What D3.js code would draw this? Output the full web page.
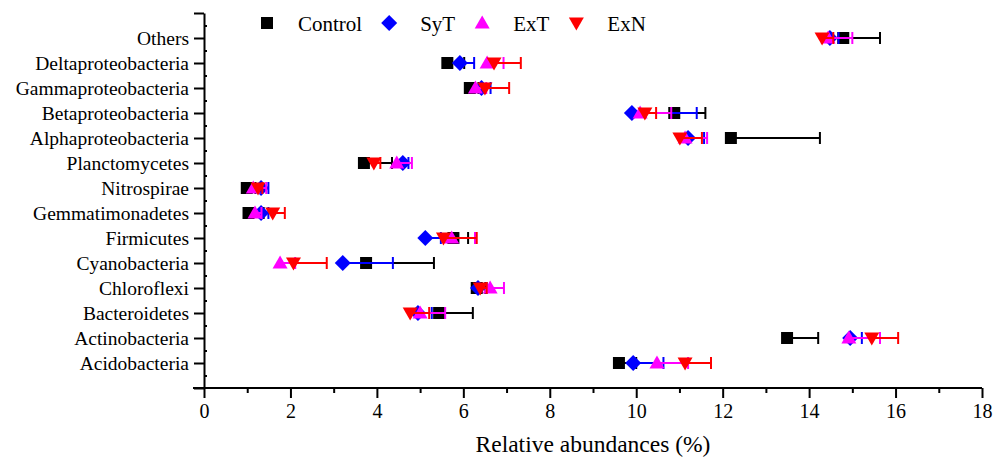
<!DOCTYPE html>
<html>
<head>
<meta charset="utf-8">
<script src="https://cdn.jsdelivr.net/npm/d3@7"></script>
<style>
  body { margin: 0; background: #fff; }
  svg text { font-family: "Liberation Serif", Tinos, "Times New Roman", Times, "DejaVu Serif", serif; fill: #000; }
</style>
</head>
<body>
<div id="chart"></div>
<script>
// categories listed bottom to top
const categories = ["Acidobacteria", "Actinobacteria", "Bacteroidetes", "Chloroflexi", "Cyanobacteria",
  "Firmicutes", "Gemmatimonadetes", "Nitrospirae", "Planctomycetes", "Alphaproteobacteria",
  "Betaproteobacteria", "Gammaproteobacteria", "Deltaproteobacteria", "Others"];

const seriesNames = ["Control", "SyT", "ExT", "ExN"];
const seriesColors = ["#000000", "#0000ff", "#ff00ff", "#ff0000"];

const controlMean = [9.6, 13.49, 5.44, 6.31, 3.75, 5.77, 1.03, 0.99, 3.7, 12.19, 10.88, 6.15, 5.63, 14.79];
const controlSd   = [0.4, 0.72, 0.78, 0.2, 1.57, 0.34, 0.35, 0.2, 0.65, 2.06, 0.72, 0.2, 0.39, 0.85];
const sytMean = [9.93, 14.95, 4.95, 6.34, 3.21, 5.12, 1.32, 1.32, 4.6, 11.2, 9.9, 6.42, 5.92, 14.48];
const sytSd   = [0.7, 0.27, 0.32, 0.2, 1.16, 0.36, 0.17, 0.17, 0.13, 0.37, 1.5, 0.21, 0.33, 0.2];
const extMean = [10.48, 14.92, 5.0, 6.62, 1.76, 5.73, 1.18, 1.14, 4.46, 11.13, 10.09, 6.28, 6.55, 14.44];
const extSd   = [0.72, 0.72, 0.58, 0.32, 0.35, 0.54, 0.15, 0.3, 0.35, 0.51, 0.72, 0.25, 0.38, 0.56];
const exnMean = [11.13, 15.45, 4.77, 6.39, 2.07, 5.54, 1.59, 1.25, 3.93, 11.01, 10.2, 6.5, 6.71, 14.3];
const exnSd   = [0.6, 0.61, 0.44, 0.15, 0.77, 0.77, 0.28, 0.1, 0.15, 0.51, 0.26, 0.56, 0.62, 0.26];

const xMajor = [0, 2, 4, 6, 8, 10, 12, 14, 16, 18];
const xMinor = [1, 3, 5, 7, 9, 11, 13, 15, 17];

const means = [controlMean, sytMean, extMean, exnMean];
const sds = [controlSd, sytSd, extSd, exnSd];

const width = 1003, height = 461;
const svg = d3.select("#chart").append("svg")
  .attr("width", width)
  .attr("height", height);

const x = d3.scaleLinear().domain([0, 18]).range([204, 982]);
const y = d3.scaleLinear().domain([0, 15]).range([388, 13]);

// marker shapes
const shapes = [
  "M-6,-6H6V6H-6Z",
  "M0,-8L8,0L0,8L-8,0Z",
  "M0,-7.5L7.5,5.5L-7.5,5.5Z",
  "M0,7.5L7.5,-5.5L-7.5,-5.5Z"
];

// x axis
const xAxis = svg.append("g")
  .attr("transform", `translate(0,${y(0)})`)
  .call(d3.axisBottom(x).tickValues(xMajor).tickSize(10).tickSizeOuter(0).tickPadding(6));
xAxis.select(".domain").attr("d", `M193,0H${x(18)}`);
svg.append("g")
  .attr("transform", `translate(0,${y(0)})`)
  .call(d3.axisBottom(x).tickValues(xMinor).tickSize(5).tickFormat(""))
  .select(".domain").remove();

// y axis
const yTicks = d3.range(0, 16);
const yAxis = svg.append("g")
  .attr("transform", `translate(${x(0)},0)`)
  .call(d3.axisLeft(y).tickValues(yTicks).tickSize(10).tickSizeOuter(0).tickPadding(5)
    .tickFormat(i => (i >= 1 && i <= categories.length) ? categories[i - 1] : ""));
svg.append("g")
  .attr("transform", `translate(${x(0)},0)`)
  .call(d3.axisRight(y).tickValues(d3.range(0.5, 15, 1)).tickSize(3).tickFormat(""))
  .select(".domain").remove();

svg.selectAll("g").attr("font-family", null);
svg.selectAll(".domain").attr("stroke-width", 2);
svg.selectAll(".tick line").attr("stroke-width", 2);
xAxis.selectAll("text").attr("font-size", "20px");
yAxis.selectAll("text").attr("font-size", "19.5px");

// series: error bar then marker
seriesNames.forEach((name, s) => {
  const g = svg.append("g").attr("class", "series-" + name);
  const rows = categories.map((c, i) => ({ i: i + 1, m: means[s][i], sd: sds[s][i] }));
  const eb = g.selectAll("g.eb").data(rows).enter().append("g").attr("class", "eb");
  eb.append("line")
    .attr("x1", d => x(d.m)).attr("x2", d => x(d.m + d.sd))
    .attr("y1", d => y(d.i)).attr("y2", d => y(d.i))
    .attr("stroke", seriesColors[s]).attr("stroke-width", 2);
  eb.append("line")
    .attr("x1", d => x(d.m + d.sd)).attr("x2", d => x(d.m + d.sd))
    .attr("y1", d => y(d.i) - 6).attr("y2", d => y(d.i) + 6)
    .attr("stroke", seriesColors[s]).attr("stroke-width", 2);
  g.selectAll("path.mk").data(rows).enter().append("path")
    .attr("class", "mk")
    .attr("d", shapes[s])
    .attr("transform", d => `translate(${x(d.m)},${y(d.i)})`)
    .attr("fill", seriesColors[s]);
});

// legend: each entry is symbol, gap, label, then the next entry
const legend = svg.append("g");
let lx = 267;
seriesNames.forEach((name, s) => {
  legend.append("path")
    .attr("d", shapes[s])
    .attr("transform", `translate(${lx},23)`)
    .attr("fill", seriesColors[s]);
  const t = legend.append("text")
    .attr("x", lx + 31).attr("y", 30.5)
    .attr("font-size", "21px")
    .text(name);
  lx += 31 + t.node().getComputedTextLength() + 27;
});

// axis title
svg.append("text")
  .attr("x", (x(0) + x(18)) / 2).attr("y", 452)
  .attr("text-anchor", "middle")
  .attr("font-size", "23.5px")
  .text("Relative abundances (%)");
</script>
</body>
</html>
